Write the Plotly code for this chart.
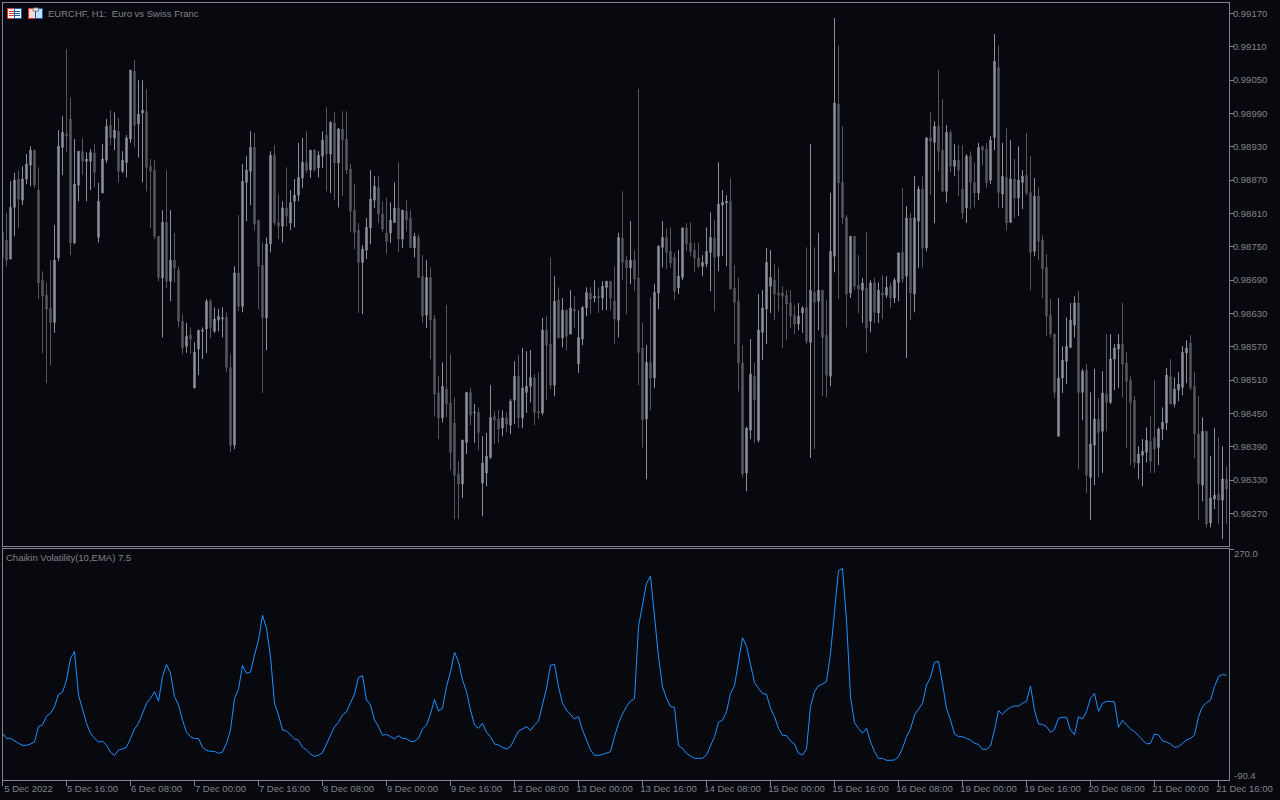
import plotly.graph_objects as go

BG = "#08090E"
UP = "#8F909F"
DOWN = "#56575D"
FRAME = "#84848C"
TEXT = "#82828A"
LINE = "#1E90FF"

# EURCHF H1 prices in points (1 point = 0.00001)
highs = [98789,98811,98868,98883,98888,98895,98917,98931,98924,98893,98706,98686,98726,98789,98960,98985,99106,99019,98944,98922,98946,98920,98926,98935,98865,98935,98980,98996,98992,98982,98922,98951,99068,99086,99050,99050,99034,98908,98906,98769,98816,98888,98816,98775,98715,98629,98613,98605,98578,98600,98605,98656,98656,98641,98638,98641,98632,98557,98715,98807,98899,98913,98958,98955,98798,98758,98767,98922,98933,98845,98832,98893,98852,98872,98937,
98946,98958,98924,98926,98922,98958,99001,98976,98992,98964,98994,98994,98899,98863,98793,98753,98802,98888,98877,98877,98832,98838,98830,98866,98902,98816,98834,98816,98775,98773,98735,98726,98713,98627,98517,98542,98645,98557,98479,98364,98402,98488,98496,98467,98461,98409,98415,98501,98454,98456,98456,98452,98476,98544,98555,98568,98562,98564,98521,98524,98622,98625,98731,98697,98677,98658,98638,98672,98661,98636,98643,98677,98677,98690,98677,
98688,98688,98688,98715,98775,98850,98733,98796,98744,99034,98613,98573,98659,98683,98753,98796,98784,98785,98740,98744,98785,98793,98794,98758,98757,98735,98785,98812,98798,98902,98852,98843,98874,98717,98694,98573,98425,98584,98541,98665,98672,98748,98744,98719,98713,98679,98672,98672,98645,98649,98643,98749,98935,98749,98775,98672,98654,98847,99162,99113,98967,98807,98769,98769,98735,98694,98776,98690,98694,98686,98699,98697,98686,98694,98740,
98856,98823,98811,98877,98859,98877,98947,98992,98976,99068,99016,98969,98960,98935,98933,98933,98917,98922,98901,98937,98931,98937,98949,99133,99113,98937,98964,98942,98908,98931,98888,98955,98913,98874,98857,98771,98737,98656,98593,98658,98571,98623,98649,98661,98670,98530,98539,98488,98530,98478,98526,98593,98593,98575,98593,98649,98560,98517,98481,98391,98404,98425,98445,98510,98425,98461,98532,98548,98515,98524,98571,98582,98591,98524,98481,98443,98418,98373,98424,98407,98391,98355]

lows = [98717,98715,98728,98769,98784,98825,98863,98859,98856,98656,98559,98505,98537,98595,98724,98879,98920,98735,98755,98832,98879,98832,98852,98857,98758,98847,98901,98933,98924,98866,98883,98875,98937,98929,98911,98866,98850,98784,98764,98688,98587,98676,98652,98686,98605,98557,98559,98557,98496,98519,98548,98559,98586,98595,98598,98587,98524,98380,98386,98634,98632,98796,98825,98780,98638,98487,98564,98740,98789,98764,98758,98787,98780,98785,98832,
98856,98883,98874,98886,98875,98892,98850,98847,98834,98821,98841,98881,98776,98746,98631,98629,98728,98755,98820,98793,98776,98737,98757,98794,98740,98748,98778,98749,98731,98695,98613,98604,98548,98445,98404,98434,98443,98348,98260,98260,98298,98377,98429,98397,98384,98265,98319,98368,98395,98397,98409,98416,98413,98431,98424,98424,98451,98470,98429,98440,98447,98474,98494,98481,98586,98569,98564,98593,98604,98523,98573,98625,98629,98650,98631,
98636,98636,98636,98575,98587,98690,98629,98683,98670,98501,98389,98332,98456,98496,98638,98713,98710,98712,98654,98665,98690,98742,98733,98704,98712,98697,98713,98670,98634,98706,98733,98715,98674,98575,98490,98335,98310,98404,98397,98398,98546,98575,98631,98618,98634,98568,98582,98604,98593,98600,98595,98575,98370,98386,98600,98481,98479,98499,98704,98656,98791,98605,98658,98672,98631,98613,98559,98596,98613,98613,98620,98658,98640,98649,98652,
98685,98550,98618,98632,98712,98713,98742,98843,98793,98886,98848,98830,98884,98877,98841,98800,98793,98818,98821,98834,98897,98856,98863,98924,98820,98820,98780,98794,98802,98805,98818,98843,98672,98733,98726,98658,98589,98587,98478,98409,98487,98503,98569,98587,98350,98438,98307,98258,98321,98335,98343,98418,98467,98492,98496,98479,98388,98357,98352,98332,98319,98362,98343,98343,98357,98402,98420,98467,98461,98472,98483,98505,98492,98370,98258,98292,98245,98245,98278,98251,98224,98251]

opens = [98776,98762,98728,98821,98872,98834,98872,98897,98924,98852,98690,98663,98640,98614,98730,98929,98953,98980,98757,98861,98922,98904,98904,98919,98767,98847,98906,98969,98946,98958,98886,98902,98944,99066,98971,98991,98994,98895,98888,98769,98694,98794,98688,98726,98708,98616,98571,98591,98496,98566,98598,98602,98652,98598,98618,98620,98623,98533,98393,98703,98643,98866,98886,98929,98798,98717,98622,98755,98915,98794,98787,98820,98793,98832,98843,
98874,98902,98888,98924,98892,98913,98951,98917,98973,98901,98962,98944,98890,98816,98780,98722,98744,98784,98834,98857,98809,98775,98775,98794,98820,98764,98814,98802,98748,98767,98697,98627,98695,98620,98487,98442,98494,98469,98433,98341,98323,98398,98488,98451,98452,98325,98343,98371,98445,98440,98424,98442,98429,98474,98517,98442,98488,98499,98514,98454,98451,98600,98575,98501,98654,98586,98636,98593,98638,98539,98584,98640,98667,98658,98661,
98658,98677,98688,98652,98618,98766,98726,98712,98726,98694,98568,98440,98542,98514,98667,98749,98767,98742,98731,98676,98695,98784,98757,98744,98730,98715,98719,98740,98766,98733,98825,98829,98832,98676,98652,98541,98343,98420,98517,98402,98596,98638,98679,98690,98667,98667,98663,98649,98627,98611,98631,98641,98578,98668,98652,98672,98591,98517,98733,99007,98866,98803,98667,98769,98681,98672,98676,98616,98685,98631,98667,98663,98679,98658,98686,
98740,98697,98802,98665,98796,98854,98748,98946,98938,98967,98924,98850,98956,98895,98906,98854,98820,98913,98866,98847,98931,98926,98870,98947,99073,98845,98875,98794,98872,98838,98866,98879,98848,98742,98841,98762,98713,98627,98593,98409,98514,98544,98569,98609,98649,98488,98528,98335,98393,98440,98418,98485,98470,98548,98566,98575,98541,98510,98474,98361,98375,98380,98400,98407,98389,98422,98433,98517,98467,98492,98497,98559,98577,98499,98413,98321,98418,98253,98296,98305,98294,98332]

closes = [98730,98726,98821,98870,98836,98872,98899,98924,98861,98685,98661,98638,98614,98726,98931,98956,98949,98757,98863,98922,98904,98908,98920,98884,98832,98908,98967,98946,98960,98886,98906,98946,99068,98969,98989,98996,98893,98886,98769,98695,98794,98688,98726,98712,98616,98568,98589,98584,98560,98600,98600,98652,98605,98620,98625,98622,98533,98393,98703,98643,98868,98888,98929,98791,98715,98623,98755,98915,98793,98787,98820,98805,98830,98843,98875,
98902,98888,98924,98888,98915,98942,98917,98974,98901,98962,98942,98888,98814,98776,98722,98746,98785,98836,98859,98809,98782,98760,98798,98820,98764,98816,98798,98749,98769,98695,98625,98695,98618,98485,98442,98499,98467,98380,98339,98323,98402,98488,98447,98452,98416,98361,98373,98443,98438,98422,98442,98431,98472,98517,98442,98496,98499,98515,98452,98451,98600,98573,98501,98652,98586,98636,98589,98640,98634,98587,98641,98668,98656,98661,98658,
98679,98688,98658,98620,98767,98722,98712,98726,98692,98560,98438,98542,98514,98668,98751,98767,98740,98721,98670,98697,98784,98755,98742,98730,98715,98722,98742,98767,98731,98827,98830,98832,98674,98650,98541,98341,98424,98521,98474,98600,98640,98722,98695,98665,98663,98661,98647,98625,98611,98625,98640,98580,98672,98650,98672,98587,98519,98742,99009,98865,98802,98665,98769,98679,98674,98685,98604,98685,98632,98672,98663,98677,98658,98690,98739,
98692,98802,98667,98802,98854,98748,98946,98940,98967,98922,98850,98956,98895,98906,98888,98811,98913,98866,98847,98929,98924,98866,98942,99084,98848,98877,98793,98872,98838,98870,98877,98847,98740,98841,98760,98710,98625,98593,98488,98514,98546,98571,98618,98649,98488,98526,98339,98395,98440,98416,98487,98470,98548,98568,98575,98539,98508,98470,98362,98377,98382,98402,98364,98386,98422,98434,98519,98467,98494,98503,98560,98568,98497,98413,98323,98418,98251,98298,98303,98294,98332,98314]

# Chaikin Volatility(10,EMA)
chaikin = [-17.6,-25.4,-25.4,-29.6,-33.2,-36.3,-36.3,-34.2,-31.1,-7.2,-4.1,8.9,13.6,24,43.2,46.4,65.6,99.4,110.3,42.2,18.8,-2,-17.6,-25.4,-31.1,-30.1,-35.8,-47.2,-51.9,-43.6,-42,-39.4,-25.4,-10.8,-2,13.6,29.2,37,47.4,32.3,70.8,90,76,39.6,26.6,3.2,-16,-22.8,-25.9,-25.4,-39.4,-44.1,-45.7,-45.7,-48.8,-46.7,-33.2,-12.4,37,51,88.5,76,78.1,104.6,128,166.5,146.2,102,29.2,11,-12.4,-14,-20.2,-26.4,-28.5,-39.4,-43.6,-49.8,-53.5,-51.9,-47.8,-34.2,-20.2,-7.2,-0.4,11,16.2,29.2,43.8,69.8,72.4,34.4,26.6,3.2,-7.2,-20.7,-19.2,-22.8,-26.4,-21.2,-25.4,-25.9,-30.1,-30.1,-25.4,-10.8,-4.6,
12.6,35.4,17.2,21.4,55.2,78.6,108.8,94.2,65.6,47.4,18.8,-4.6,-9.8,-2,-16,-22.8,-34.2,-35.8,-39.4,-42,-38.4,-25.4,-14,-10.8,-7.2,-12.9,-4.6,1.6,29.2,52.6,88.5,90,55.2,29.2,18.8,12,4.8,8.4,-12.4,-28,-43.6,-51.9,-51.9,-50.4,-48.8,-46.2,-22.8,-2,12.6,24,32.8,36.5,148.8,185.2,216.4,227.8,169.6,102,55.2,37,24,23,-36.8,-41,-48.8,-53,-56.6,-56.6,-56.6,-51.4,-37.4,-22.8,-0.4,3.2,16.2,44.8,56.8,91.6,131.6,118.6,89,61.4,52.6,44.8,43.2,21.4,8.4,-9.8,-20.7,-21.2,-29.6,-34.2,-48.8,-51.4,-42,24,47.4,56.8,59.4,63,107.2,174.8,236.2,239.8,159.2,39.6,-1,-9.8,
-17.6,-9.8,-30.6,-46.2,-56.6,-56.6,-59.7,-59.7,-59.2,-54,-41,-22.8,-10.8,11,19.8,29.2,57.8,69.8,93.2,94.7,60.4,21.4,3.2,-18.6,-22.8,-22.8,-25.4,-28,-33.2,-34.8,-42.6,-42.6,-37.4,-12.4,17.8,12,18.8,23,25,25,29.2,32.3,56.2,18.8,-3,-3.6,-7.2,-16,-11.4,5.8,7.4,7.4,-12.4,-19.7,8.4,4.8,16.2,37,44.8,16.7,29.2,32.3,32.3,31.3,-8.2,2.7,-4.6,-10.8,-15,-21.2,-28,-34.2,-33.2,-18.6,-20.2,-29.6,-31.1,-34.2,-39.4,-38.4,-33.2,-28,-25.4,-20.2,8.4,24,30.2,34.4,55.2,70.8,74.4,72.9]

price_ticks = [0.99170,0.99110,0.99050,0.98990,0.98930,0.98870,0.98810,0.98750,0.98690,0.98630,0.98570,0.98510,0.98450,0.98390,0.98330,0.98270]
time_labels = ["5 Dec 2022","5 Dec 16:00","6 Dec 08:00","7 Dec 00:00","7 Dec 16:00","8 Dec 08:00","9 Dec 00:00","9 Dec 16:00",
               "12 Dec 08:00","13 Dec 00:00","13 Dec 16:00","14 Dec 08:00","15 Dec 00:00","15 Dec 16:00","16 Dec 08:00",
               "19 Dec 00:00","19 Dec 16:00","20 Dec 08:00","21 Dec 00:00","21 Dec 16:00"]
bars_per_label = 16

n = len(closes)
assert len(highs) == n and len(lows) == n and len(opens) == n and len(chaikin) == n, (len(highs), len(lows), len(opens), len(closes), len(chaikin))
bars = list(range(n))
W, H = 1280, 800
FONT = "Liberation Sans"

def px(x): return x / W
def py(y): return 1 - y / H

fig = go.Figure()
fig.add_trace(go.Candlestick(
    x=bars,
    open=[v / 1e5 for v in opens], high=[v / 1e5 for v in highs],
    low=[v / 1e5 for v in lows], close=[v / 1e5 for v in closes],
    increasing=dict(line=dict(color=UP, width=1), fillcolor=UP),
    decreasing=dict(line=dict(color=DOWN, width=1), fillcolor=DOWN),
    whiskerwidth=0, xaxis="x", yaxis="y", hoverinfo="skip", showlegend=False,
))
fig.add_trace(go.Scatter(x=bars, y=chaikin, mode="lines", line=dict(color=LINE, width=1),
                         xaxis="x2", yaxis="y2", hoverinfo="skip", showlegend=False))

frame = dict(showline=True, linecolor=FRAME, linewidth=1, mirror=True, showgrid=False, zeroline=False, automargin=False)
xdom = [px(2.5), px(1229)]
xrange = [0, 306.625]

shapes = []
def rect(x0, y0, x1, y1, fill, line=None):
    shapes.append(dict(type="rect", xref="paper", yref="paper", x0=px(x0), x1=px(x1), y0=py(y0), y1=py(y1),
                       fillcolor=fill, line=dict(color=line or fill, width=1 if line else 0)))
# toolbar icons
rect(7.5, 8.5, 14.5, 18.5, "#FFFFFF", "#E8352B")
rect(14.5, 8.5, 21.5, 18.5, "#FFFFFF", "#0F5FB0")
for yy in (11, 13, 15):
    rect(9, yy, 14, yy + 1, "#E8352B")
    rect(15, yy, 20, yy + 1, "#0F5FB0")
rect(28.5, 8.5, 35.5, 18.5, "#FFD8D0", "#E8352B")
rect(35.5, 8.5, 42.5, 18.5, "#BFE4FF", "#0F5FB0")
rect(33, 8, 38.5, 11, "#F4F4F4", "#777777")

fig.update_layout(
    width=W, height=H, autosize=False,
    margin=dict(l=0, r=0, t=0, b=0, autoexpand=False),
    paper_bgcolor=BG, plot_bgcolor=BG,
    font=dict(family=FONT, size=9.5, color=TEXT),
    showlegend=False, boxgap=0.5,
    shapes=shapes,
    xaxis=dict(domain=xdom, range=xrange, anchor="y", showticklabels=False, ticks="",
               rangeslider=dict(visible=False), **frame),
    yaxis=dict(domain=[py(546), py(3)], range=[0.982115, 0.991889], anchor="x", side="right",
               tickmode="array", tickvals=price_ticks, ticktext=[f"{v:.5f}" for v in price_ticks],
               ticks="outside", ticklen=4, tickwidth=1, tickcolor=FRAME, ticklabelstandoff=-3, **frame),
    xaxis2=dict(domain=xdom, range=xrange, anchor="y2", tickmode="array",
                tickvals=bars[::bars_per_label][:len(time_labels)], ticktext=time_labels,
                ticks="outside", ticklen=5, tickwidth=1, tickcolor=FRAME, ticklabelshift=26, ticklabelstandoff=-5,
                tickangle=0, **frame),
    yaxis2=dict(domain=[py(780), py(549)], range=[-90.4, 270], anchor="x2", side="right",
                tickmode="array", tickvals=[270], ticktext=[""],
                ticks="outside", ticklen=4, tickwidth=1, tickcolor=FRAME, **frame),
    annotations=[
        dict(text="EURCHF, H1:  Euro vs Swiss Franc", xref="paper", yref="paper", x=px(46), y=py(13.5),
             xanchor="left", yanchor="middle", showarrow=False, font=dict(family=FONT, size=9.5, color=TEXT)),
        dict(text="Chaikin Volatility(10,EMA) 7.5", xref="paper", yref="paper", x=px(3.5), y=py(557.5),
             xanchor="left", yanchor="middle", showarrow=False, font=dict(family=FONT, size=9.5, color=TEXT)),
        dict(text="270.0", xref="paper", yref="paper", x=px(1232), y=py(553.5),
             xanchor="left", yanchor="middle", showarrow=False, font=dict(family=FONT, size=9.5, color=TEXT)),
        dict(text="-90.4", xref="paper", yref="paper", x=px(1232), y=py(775),
             xanchor="left", yanchor="middle", showarrow=False, font=dict(family=FONT, size=9.5, color=TEXT)),
    ],
)
fig.write_html("out.html", config=dict(displayModeBar=False), post_script="document.body.style.margin='0';document.body.style.background='%s';document.documentElement.style.overflow='hidden';" % BG)
